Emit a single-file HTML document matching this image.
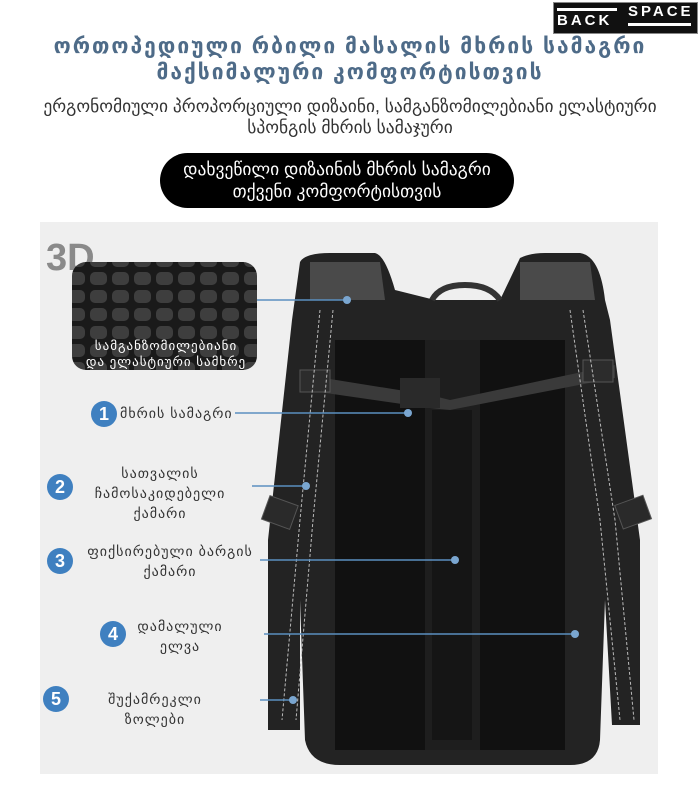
<!DOCTYPE html>
<html><head><meta charset="utf-8"><style>
body{margin:0;width:700px;height:800px;background:#fff;position:relative;overflow:hidden;font-family:"Liberation Sans","DejaVu Sans",sans-serif}
.a{position:absolute}
.t{left:0;width:700px;text-align:center;color:#4e6b88;font-weight:bold;font-size:21px;letter-spacing:2px;line-height:26px}
.s{left:0;width:700px;text-align:center;color:#333;font-size:17.5px;line-height:21px}
.lbl{position:absolute;color:#333;font-size:14px;text-align:center;line-height:20px;letter-spacing:1px}
</style></head><body>
<div class="a" style="left:553px;top:2px;width:143px;height:30px;background:#111;border:1px solid #888"></div>
<div class="a" style="left:557px;top:8px;width:60px;height:3px;background:#fff"></div>
<div class="a" style="left:557px;top:12px;color:#fff;font-weight:bold;font-size:15px;letter-spacing:3px">BACK</div>
<div class="a" style="left:628px;top:3px;color:#fff;font-weight:bold;font-size:15px;letter-spacing:3px">SPACE</div>
<div class="a" style="left:628px;top:23px;width:63px;height:3px;background:#fff"></div>
<div class="a t" style="top:34px">ორთოპედიული რბილი მასალის მხრის სამაგრი<br>მაქსიმალური კომფორტისთვის</div>
<div class="a s" style="top:96px">ერგონომიული პროპორციული დიზაინი, სამგანზომილებიანი ელასტიური<br>სპონგის მხრის სამაჯური</div>
<div class="a" style="left:160px;top:153px;width:354px;height:55px;background:#000;border-radius:28px;color:#fff;text-align:center;font-size:17.5px;line-height:22px;padding-top:5px;box-sizing:border-box">დახვეწილი დიზაინის მხრის სამაგრი<br>თქვენი კომფორტისთვის</div>
<svg class="a" style="left:0;top:0" width="700" height="800">
<rect x="40" y="222" width="618" height="552" fill="#efefef"/>
<text x="46" y="270" font-size="38" font-weight="bold" fill="#8a8a8a" font-family="Liberation Sans">3D</text>
<path d="M300 262 Q305 253 330 253 L375 253 Q385 255 395 290 L435 300 L500 300 L520 258 Q530 253 545 253 L580 253 Q600 256 605 300 L610 320 L640 540 L640 725 L612 725 L605 600 L600 740 Q598 765 570 765 L340 765 Q310 765 305 740 L300 600 L300 730 L268 730 L268 540 L292 320 Z" fill="#232323"/>
<path d="M310 262 L380 262 L385 300 L310 300 Z M520 262 L590 262 L595 300 L520 300 Z" fill="#4a4a4a"/>
<path d="M432 300 Q440 285 465 285 Q490 285 500 300" stroke="#333" stroke-width="6" fill="none"/>
<rect x="335" y="340" width="230" height="410" fill="#111"/>
<rect x="425" y="340" width="55" height="410" fill="#1e1e1e"/>
<rect x="432" y="410" width="40" height="330" fill="#151515"/>
<path d="M305 375 L430 395 L450 400 L615 365 L615 378 L450 410 L430 408 L305 390 Z" fill="#3a3a3a"/>
<rect x="400" y="378" width="40" height="30" fill="#2a2a2a"/>
<rect x="300" y="370" width="30" height="22" fill="#2c2c2c" stroke="#555"/>
<rect x="583" y="360" width="30" height="22" fill="#2c2c2c" stroke="#555"/>
<g stroke="#bbb" stroke-width="1" stroke-dasharray="3 2" fill="none">
<path d="M320 310 L300 520 L282 720 M333 310 L313 520 L296 720"/>
<path d="M570 310 L600 520 L620 720 M583 310 L615 520 L634 720"/>
</g>
<rect x="265" y="500" width="30" height="25" fill="#2a2a2a" stroke="#555" transform="rotate(20 280 512)"/>
<rect x="618" y="500" width="30" height="25" fill="#2a2a2a" stroke="#555" transform="rotate(-20 632 512)"/>
<defs><pattern id="p" width="22" height="18" patternUnits="userSpaceOnUse"><rect width="22" height="18" fill="#1a1a1a"/><rect x="2" y="2" width="17" height="13" rx="5" fill="#3e3e3e"/></pattern></defs>
<rect x="72" y="262" width="185" height="108" rx="14" fill="url(#p)"/>
<text x="166" y="350" font-size="13" fill="#fff" text-anchor="middle" letter-spacing="1">სამგანზომილებიანი</text>
<text x="166" y="366" font-size="13" fill="#fff" text-anchor="middle" letter-spacing="1">და ელასტიური სამხრე</text>
<g stroke="#5b8fc0" stroke-width="1.5">
<line x1="257" y1="300" x2="347" y2="300"/><line x1="235" y1="413" x2="408" y2="413"/>
<line x1="252" y1="486" x2="306" y2="486"/><line x1="260" y1="560" x2="455" y2="560"/>
<line x1="264" y1="634" x2="575" y2="634"/><line x1="260" y1="700" x2="293" y2="700"/>
</g>
<g fill="#7aa6d0"><circle cx="347" cy="300" r="4"/><circle cx="408" cy="413" r="4"/><circle cx="306" cy="486" r="4"/><circle cx="455" cy="560" r="4"/><circle cx="575" cy="634" r="4"/><circle cx="293" cy="700" r="4"/></g>
<g fill="#3f80c0"><circle cx="104" cy="414" r="13"/><circle cx="60" cy="487" r="13"/><circle cx="60" cy="561" r="13"/><circle cx="113" cy="634" r="13"/><circle cx="56" cy="699" r="13"/></g>
<g fill="#fff" font-size="18" font-weight="bold" text-anchor="middle" font-family="Liberation Sans">
<text x="104" y="420">1</text><text x="60" y="493">2</text><text x="60" y="567">3</text><text x="113" y="640">4</text><text x="56" y="705">5</text></g>
</svg>
<div class="lbl" style="left:120px;top:403px;width:140px;text-align:left">მხრის სამაგრი</div>
<div class="lbl" style="left:80px;top:463px;width:160px">სათვალის<br>ჩამოსაკიდებელი<br>ქამარი</div>
<div class="lbl" style="left:75px;top:541px;width:190px">ფიქსირებული ბარგის<br>ქამარი</div>
<div class="lbl" style="left:130px;top:616px;width:100px">დამალული<br>ელვა</div>
<div class="lbl" style="left:90px;top:689px;width:130px">შუქამრეკლი<br>ზოლები</div>
</body></html>
